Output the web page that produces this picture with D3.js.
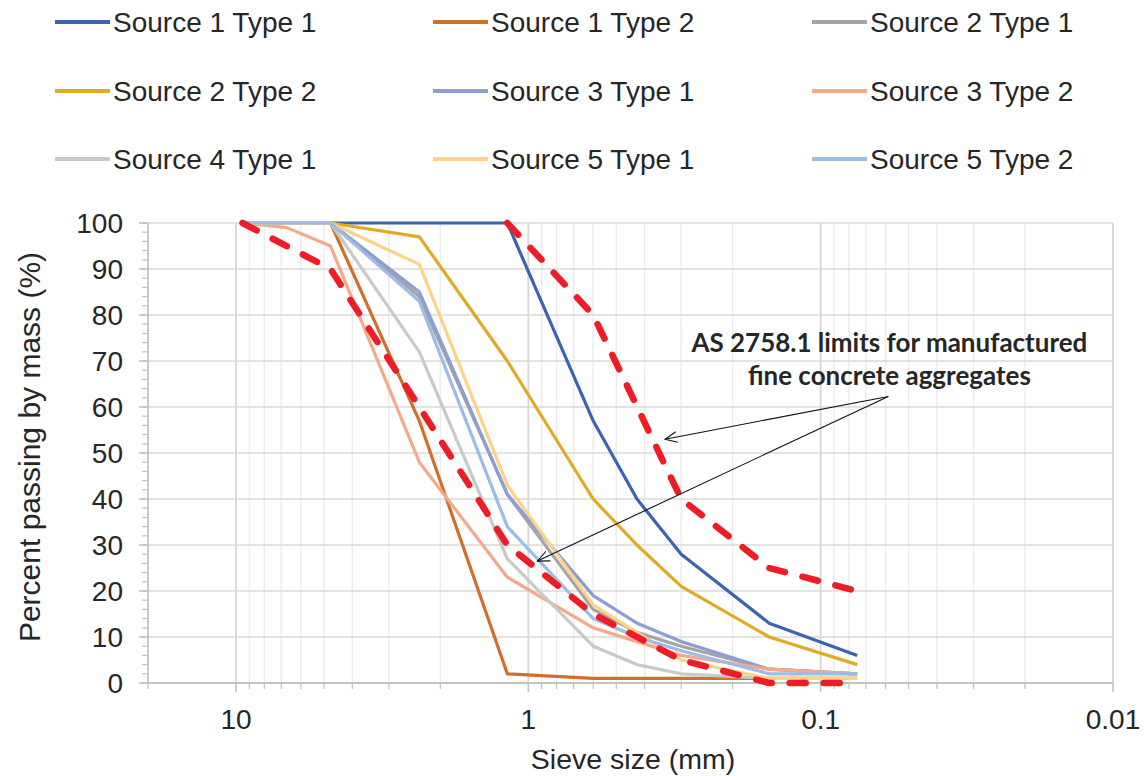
<!DOCTYPE html>
<html>
<head>
<meta charset="utf-8">
<script src="https://cdn.jsdelivr.net/npm/d3@7"></script>
<style>
  html, body { margin: 0; padding: 0; background: #fff; }
  svg { display: block; }
</style>
</head>
<body>
<svg id="chart" width="1145" height="776"></svg>
<script>
// ---------- DATA ----------
const sieves = [9.5, 6.7, 4.75, 2.36, 1.18, 0.6, 0.425, 0.3, 0.15, 0.075];
const seriesNames = [
  "Source 1 Type 1", "Source 1 Type 2", "Source 2 Type 1",
  "Source 2 Type 2", "Source 3 Type 1", "Source 3 Type 2",
  "Source 4 Type 1", "Source 5 Type 1", "Source 5 Type 2"
];
const s1t1 = [100, null, 100, 100, 100, 57, 40, 28, 13, 6];
const s1t2 = [100, null, 100, 57, 2, 1, 1, 1, 1, 1];
const s2t1 = [100, null, 100, 84, 41, 16, 11, 8, 3, 2];
const s2t2 = [100, null, 100, 97, 70, 40, 30, 21, 10, 4];
const s3t1 = [100, null, 100, 85, 41, 19, 13, 9, 3, 2];
const s3t2 = [100, 99, 95, 48, 23, 12, 9, 6, 3, 2];
const s4t1 = [100, null, 100, 72, 27, 8, 4, 2, 1, 1];
const s5t1 = [100, null, 100, 91, 43, 17, 11, 5, 1, 1];
const s5t2 = [100, null, 100, 83, 34, 14, 10, 7, 2, 2];
const seriesValues = [s1t1, s1t2, s2t1, s2t2, s3t1, s3t2, s4t1, s5t1, s5t2];
const limitLower = [100, null, 90, 60, 30, 15, null, 5, 0, 0];
const limitUpper = [null, null, null, null, 100, 80, null, 40, 25, 20];

const xTickValues = [10, 1, 0.1, 0.01];
const xTickLabels = ["10", "1", "0.1", "0.01"];
const yTickValues = [0, 10, 20, 30, 40, 50, 60, 70, 80, 90, 100];
const xTitle = "Sieve size (mm)";
const yTitle = "Percent passing by mass (%)";
const annotationLines = ["AS 2758.1 limits for manufactured", "fine concrete aggregates"];
// annotation anchor & arrow targets in data units (sieve mm, % passing)
const annotationAnchor = [0.0582, 72];
const arrowStart = [0.0587, 62.3];
const arrowTargets = [[0.3405, 53], [0.931, 26.5]];

// ---------- STYLE ----------
const colors = ["#3c64ae", "#d26e2c", "#a5a5a5", "#e1aa22", "#8c9ed4",
                "#f3a98b", "#c9c9c9", "#fed387", "#9cbce5"];
const limitColor = "#ee1c25";

const svg = d3.select("#chart");
const plot = { left: 148, right: 1113, top: 223, bottom: 683 };

const x = d3.scaleLog().domain([20, 0.01]).range([plot.left, plot.right]);
const y = d3.scaleLinear().domain([0, 100]).range([plot.bottom, plot.top]);

// minor log positions
const minorX = [];
[0.01, 0.1, 1, 10].forEach(dec => {
  for (let m = 2; m <= 9; m++) {
    const v = m * dec;
    if (v < 20 && v > 0.01) minorX.push(v);
  }
});

const grid = svg.append("g");
grid.selectAll("line.minx").data(minorX).enter().append("line")
  .attr("x1", d => x(d)).attr("x2", d => x(d))
  .attr("y1", plot.top).attr("y2", plot.bottom)
  .attr("stroke", "#ececec").attr("stroke-width", 1.5);
grid.selectAll("line.hy").data(yTickValues.filter(v => v > 0)).enter().append("line")
  .attr("x1", plot.left).attr("x2", plot.right)
  .attr("y1", d => y(d)).attr("y2", d => y(d))
  .attr("stroke", "#dadada").attr("stroke-width", 1.6);
grid.selectAll("line.majx").data(xTickValues).enter().append("line")
  .attr("x1", d => x(d)).attr("x2", d => x(d))
  .attr("y1", plot.top).attr("y2", plot.bottom)
  .attr("stroke", "#d6d6d6").attr("stroke-width", 1.8);

const axisColor = "#c4c4c4";
const yMinor = d3.range(0, 101, 2);
grid.selectAll("line.ymt").data(yMinor).enter().append("line")
  .attr("x1", plot.left - 6).attr("x2", plot.left)
  .attr("y1", d => y(d)).attr("y2", d => y(d))
  .attr("stroke", axisColor).attr("stroke-width", 1.3);
grid.selectAll("line.yMt").data(yTickValues).enter().append("line")
  .attr("x1", plot.left - 9).attr("x2", plot.left)
  .attr("y1", d => y(d)).attr("y2", d => y(d))
  .attr("stroke", axisColor).attr("stroke-width", 1.6);
grid.selectAll("line.xmt").data(minorX.concat([20])).enter().append("line")
  .attr("x1", d => x(d)).attr("x2", d => x(d))
  .attr("y1", plot.bottom).attr("y2", plot.bottom + 6)
  .attr("stroke", axisColor).attr("stroke-width", 1.3);
grid.selectAll("line.xMt").data(xTickValues).enter().append("line")
  .attr("x1", d => x(d)).attr("x2", d => x(d))
  .attr("y1", plot.bottom).attr("y2", plot.bottom + 9)
  .attr("stroke", axisColor).attr("stroke-width", 1.6);
svg.append("line").attr("x1", plot.left).attr("x2", plot.left)
  .attr("y1", plot.top).attr("y2", plot.bottom)
  .attr("stroke", axisColor).attr("stroke-width", 1.8);
svg.append("line").attr("x1", plot.left).attr("x2", plot.right)
  .attr("y1", plot.bottom).attr("y2", plot.bottom)
  .attr("stroke", axisColor).attr("stroke-width", 1.8);

// tick labels
const tickFont = "Liberation Sans, Arial, sans-serif";
const fsText = 28;
svg.selectAll("text.ylab").data(yTickValues).enter().append("text")
  .attr("x", 123).attr("y", d => y(d) + 10)
  .attr("text-anchor", "end")
  .attr("font-family", tickFont).attr("font-size", fsText).attr("fill", "#262626")
  .text(d => d);
svg.selectAll("text.xlab").data(xTickValues).enter().append("text")
  .attr("x", d => x(d)).attr("y", 729)
  .attr("text-anchor", "middle")
  .attr("font-family", tickFont).attr("font-size", fsText).attr("fill", "#262626")
  .text((d, i) => xTickLabels[i]);

// axis titles
svg.append("text")
  .attr("x", 633).attr("y", 769)
  .attr("text-anchor", "middle")
  .attr("font-family", tickFont).attr("font-size", 28.5).attr("fill", "#262626")
  .text(xTitle);
svg.append("text")
  .attr("transform", "translate(40,447) rotate(-90)")
  .attr("text-anchor", "middle")
  .attr("font-family", tickFont).attr("font-size", 30).attr("fill", "#262626")
  .text(yTitle);

// ---------- LINES ----------
const line = d3.line().x(d => x(d[0])).y(d => y(d[1]));
function pts(vals) {
  return sieves.map((s, i) => [s, vals[i]]).filter(p => p[1] !== null);
}
const lines = svg.append("g");
seriesValues.forEach((vals, i) => {
  lines.append("path")
    .attr("d", line(pts(vals)))
    .attr("fill", "none")
    .attr("stroke", colors[i])
    .attr("stroke-width", 3.2)
    .attr("stroke-linejoin", "round");
});
[limitLower, limitUpper].forEach(vals => {
  lines.append("path")
    .attr("d", line(pts(vals)))
    .attr("fill", "none")
    .attr("stroke", limitColor)
    .attr("stroke-width", 6.5)
    .attr("stroke-linecap", "round")
    .attr("stroke-linejoin", "round")
    .attr("stroke-dasharray", "16,18");
});

// ---------- ANNOTATION ----------
const ann = svg.append("g");
const annFont = "Lato, 'Open Sans', sans-serif";
const ax = x(annotationAnchor[0]), ay = y(annotationAnchor[1]);
const t1 = ann.append("text").attr("x", ax).attr("y", ay)
  .attr("text-anchor", "middle").attr("font-family", annFont)
  .attr("font-weight", "bold").attr("font-size", 24).attr("fill", "#262626")
  .text(annotationLines[0]);
const len = t1.node().getComputedTextLength();
const fs = 24 * 396 / len;
t1.attr("font-size", fs);
ann.append("text").attr("x", ax).attr("y", ay + 33.5)
  .attr("text-anchor", "middle").attr("font-family", annFont)
  .attr("font-weight", "bold").attr("font-size", fs).attr("fill", "#262626")
  .text(annotationLines[1]);

const sx = x(arrowStart[0]), sy = y(arrowStart[1]);
arrowTargets.forEach(t => {
  const tx = x(t[0]), ty = y(t[1]);
  ann.append("line").attr("x1", sx).attr("y1", sy).attr("x2", tx).attr("y2", ty)
    .attr("stroke", "#111").attr("stroke-width", 1.1);
  const ang = Math.atan2(sy - ty, sx - tx);
  const hl = 13, ha = 0.42;
  const p1 = [tx + hl * Math.cos(ang + ha), ty + hl * Math.sin(ang + ha)];
  const p2 = [tx + hl * Math.cos(ang - ha), ty + hl * Math.sin(ang - ha)];
  ann.append("path")
    .attr("d", `M${p1[0]},${p1[1]}L${tx},${ty}L${p2[0]},${p2[1]}`)
    .attr("fill", "none").attr("stroke", "#111").attr("stroke-width", 1.1);
});

// ---------- LEGEND ----------
const legX = [55, 433, 812];
const legY = [22, 91, 159];
const leg = svg.append("g");
seriesNames.forEach((name, i) => {
  const cx = legX[i % 3], cy = legY[Math.floor(i / 3)];
  leg.append("line").attr("x1", cx).attr("x2", cx + 55)
    .attr("y1", cy).attr("y2", cy)
    .attr("stroke", colors[i]).attr("stroke-width", 4);
  leg.append("text").attr("x", cx + 58).attr("y", cy + 10)
    .attr("font-family", tickFont).attr("font-size", fsText).attr("fill", "#262626")
    .text(name);
});
</script>
</body>
</html>
